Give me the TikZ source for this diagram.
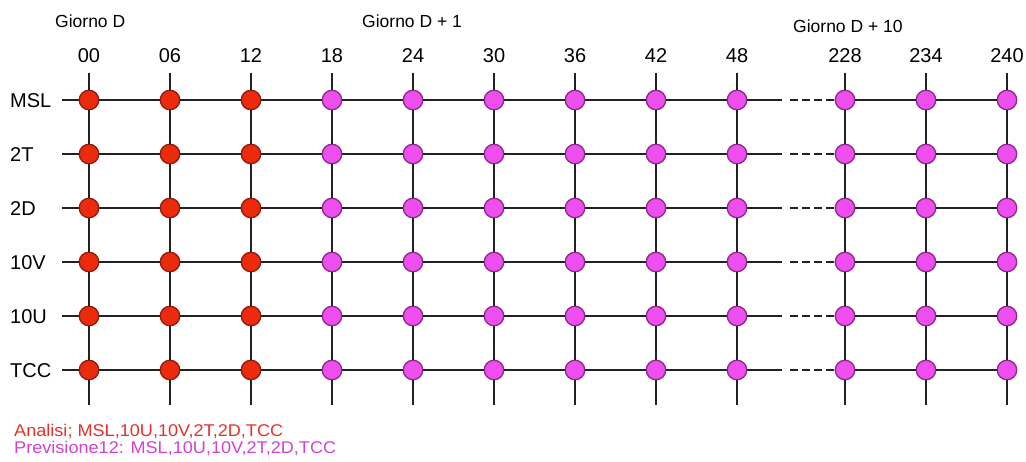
\documentclass[tikz,border=0pt]{standalone}
\usepackage{fontspec}
\setmainfont{Liberation Sans}
\usepackage{graphicx}
\definecolor{anafill}{HTML}{EC2A0C}
\definecolor{anadraw}{HTML}{8E1C10}
\definecolor{prevfill}{HTML}{EE4EEE}
\definecolor{prevdraw}{HTML}{8A2A8A}
\definecolor{gridline}{HTML}{222222}
\definecolor{anatext}{HTML}{E8302A}
\definecolor{prevtext}{HTML}{D243D2}
\begin{document}
\begin{tikzpicture}[x=1pt,y=-1pt,
  dot/.style={circle,inner sep=0pt,minimum size=19.5pt,line width=1.3pt},
  ana/.style={dot,fill=anafill,draw=anadraw},
  prev/.style={dot,fill=prevfill,draw=prevdraw},
  gridl/.style={draw=gridline,line width=1.4pt},
  dashl/.style={gridl,dash pattern=on 8pt off 4pt},
  collab/.style={anchor=base,inner sep=0pt,font=\fontsize{20}{24}\selectfont},
  rowlab/.style={anchor=base west,inner sep=0pt,font=\fontsize{20}{24}\selectfont},
  daylab/.style={anchor=base west,inner sep=0pt,font=\fontsize{17.5}{21}\selectfont},
  legend/.style={anchor=base west,inner sep=0pt,font=\fontsize{17}{20}\selectfont}]
\path[fill=white] (0,0) rectangle (1026,462);
\useasboundingbox (0,0) rectangle (1026,462);
% day labels
\node[daylab] (d0) at (55,28) {Giorno D};
\node[daylab] (d1) at (362,28) {Giorno D + 1};
\node[daylab] (d10) at (793,33) {Giorno D + 10};
% column labels and free ends
\foreach \x/\lab [count=\j] in {89/00,170/06,251/12,332/18,413/24,494/30,575/36,656/42,737/48,845/228,926/234,1007/240}{
  \node[collab] (t\j) at (\x,63) {\lab};
  \coordinate (top\j) at (\x,73);
  \coordinate (bot\j) at (\x,405);
}
% rows
\foreach \y/\lab [count=\i] in {100/MSL,154/2T,208/2D,262/10V,316/10U,370/TCC}{
  \node[rowlab] (r\i) at (10,\y+7.2) {\lab};
  \coordinate (s\i) at (62,\y);
  \coordinate (g\i) at (782,\y);
  \coordinate (h\i) at (790,\y);
  \foreach \x [count=\j] in {89,170,251,332,413,494,575,656,737,845,926,1007}{
    \ifnum\j<4 \def\st{ana}\else\def\st{prev}\fi
    \node[\st] (c\i-\j) at (\x,\y) {};
  }
}
% horizontal connectors
\foreach \i in {1,...,6}{
  \draw[gridl] (s\i) -- (c\i-1);
  \foreach \j [evaluate=\j as \k using int(\j+1)] in {1,...,8}{
    \draw[gridl] (c\i-\j) -- (c\i-\k);
  }
  \draw[gridl] (c\i-9) -- (g\i);
  \draw[dashl] (h\i) -- (c\i-10);
  \draw[gridl] (c\i-10) -- (c\i-11);
  \draw[gridl] (c\i-11) -- (c\i-12);
}
% vertical connectors
\foreach \j in {1,...,12}{
  \draw[gridl] (top\j) -- (c1-\j);
  \foreach \i [evaluate=\i as \k using int(\i+1)] in {1,...,5}{
    \draw[gridl] (c\i-\j) -- (c\k-\j);
  }
  \draw[gridl] (c6-\j) -- (bot\j);
}
% legend
\node[legend,text=anatext] (la) at (14,436) {\scalebox{1.065}[1]{Analisi; MSL,10U,10V,2T,2D,TCC}};
\node[legend,text=prevtext] (lp) at (14,453) {\scalebox{1.065}[1]{Previsione12: MSL,10U,10V,2T,2D,TCC}};
\end{tikzpicture}
\end{document}
